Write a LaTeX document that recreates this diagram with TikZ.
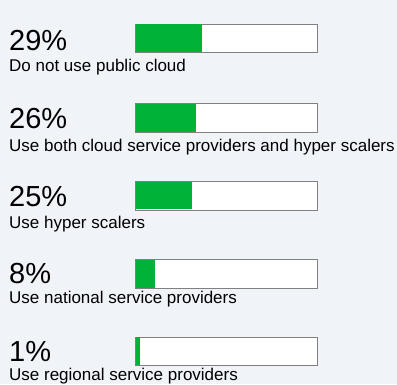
\documentclass[tikz,border=0pt]{standalone}
\usepackage{fontspec}
\setmainfont{Liberation Sans}
\definecolor{bgcol}{RGB}{240,243,247}
\definecolor{barfill}{RGB}{0,178,56}
\definecolor{barline}{RGB}{128,128,128}
\tikzset{
  pct/.style={anchor=base west, inner sep=0pt, font=\fontsize{29}{29}\selectfont},
  lbl/.style={anchor=base west, inner sep=0pt, font=\fontsize{17}{17}\selectfont},
  bar/.style={anchor=north west, inner sep=0pt, draw=barline, line width=0.8pt, fill=white, minimum width=182pt, minimum height=28.5pt},
  share/.style={anchor=north west, inner sep=0pt, fill=barfill, minimum height=27.7pt}
}
\begin{document}
\begin{tikzpicture}[x=1pt,y=-1pt]
\fill[bgcol] (0,0) rectangle (397,384);
\useasboundingbox (0,0) rectangle (397,384);
\node[pct] (pct0) at (9,50){29\%};
\node[lbl] (lbl0) at (9,71.7){Do not use public cloud};
\node[bar] (bar0) at (135,23.5){};
\node[share, minimum width=66.3pt] (share0) at ([shift={(0.4pt,-0.4pt)}]bar0.north west){};
\node[pct] (pct1) at (9,128.3){26\%};
\node[lbl] (lbl1) at (9,151){Use both cloud service providers and hyper scalers};
\node[bar] (bar1) at (135,103.3){};
\node[share, minimum width=60.6pt] (share1) at ([shift={(0.4pt,-0.4pt)}]bar1.north west){};
\node[pct] (pct2) at (9,206.5){25\%};
\node[lbl] (lbl2) at (9,228.3){Use hyper scalers};
\node[bar] (bar2) at (135,181){};
\node[share, minimum width=56.3pt] (share2) at ([shift={(0.4pt,-0.4pt)}]bar2.north west){};
\node[pct] (pct3) at (9,283.3){8\%};
\node[lbl] (lbl3) at (9,303.3){Use national service providers};
\node[bar] (bar3) at (135,259.3){};
\node[share, minimum width=19.6pt] (share3) at ([shift={(0.4pt,-0.4pt)}]bar3.north west){};
\node[pct] (pct4) at (9,361.7){1\%};
\node[lbl] (lbl4) at (9,380.7){Use regional service providers};
\node[bar] (bar4) at (135,336.7){};
\node[share, minimum width=4pt] (share4) at ([shift={(1pt,-0.4pt)}]bar4.north west){};
\end{tikzpicture}
\end{document}
